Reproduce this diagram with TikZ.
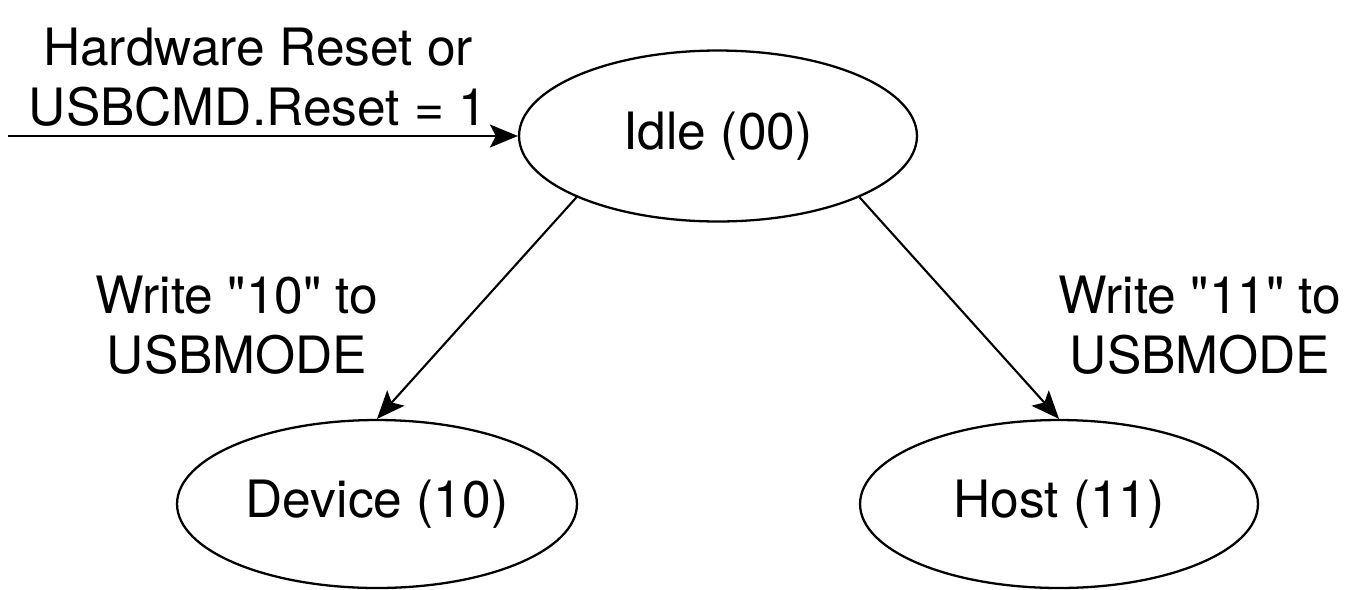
\documentclass[tikz,border=0pt]{standalone}
\usepackage{fontspec}
\setmainfont{TeX Gyre Heros}
\usetikzlibrary{arrows.meta, shapes.geometric}

\tikzset{
  state/.style={ellipse, draw, line width=1.3pt, inner sep=0pt,
    font=\fontsize{29.3}{34}\selectfont},
  trans/.style={align=center, font=\fontsize{29.3}{34}\selectfont},
}

\begin{document}
\begin{tikzpicture}[x=0.02cm, y=-0.02cm,
  >={Stealth[length=5.6mm, width=4.6mm, inset=1.2mm]}, line width=1.2pt]

% Canvas (pixel units, y pointing down)
\useasboundingbox (0,0) rectangle (1351,589);

% ================================================================
% STATES
% ================================================================
\node[state, minimum width=7.96cm, minimum height=3.42cm] (idle) at (718,136) {Idle (00)};
\node[state, minimum width=8.0cm, minimum height=3.36cm] (device) at (377,504) {Device (10)};
\node[state, minimum width=7.96cm, minimum height=3.36cm] (host) at (1059,504) {Host (11)};

% ================================================================
% TRANSITIONS
% ================================================================
% Entry from reset
\coordinate (start) at (8,136);
\draw[->] (start) -- (idle.west);
\node[trans] (resetlbl) at (258,77) {Hardware Reset or\\USBCMD.Reset = 1};

% Idle -> Device
\draw[->] (idle.south west) -- (device.north);
\node[trans] (devlbl) at (237,325) {Write \textquotedbl10\textquotedbl{} to\\USBMODE};

% Idle -> Host
\draw[->] (idle.south east) -- (host.north);
\node[trans] (hostlbl) at (1200,325) {Write \textquotedbl11\textquotedbl{} to\\USBMODE};

\end{tikzpicture}
\end{document}
